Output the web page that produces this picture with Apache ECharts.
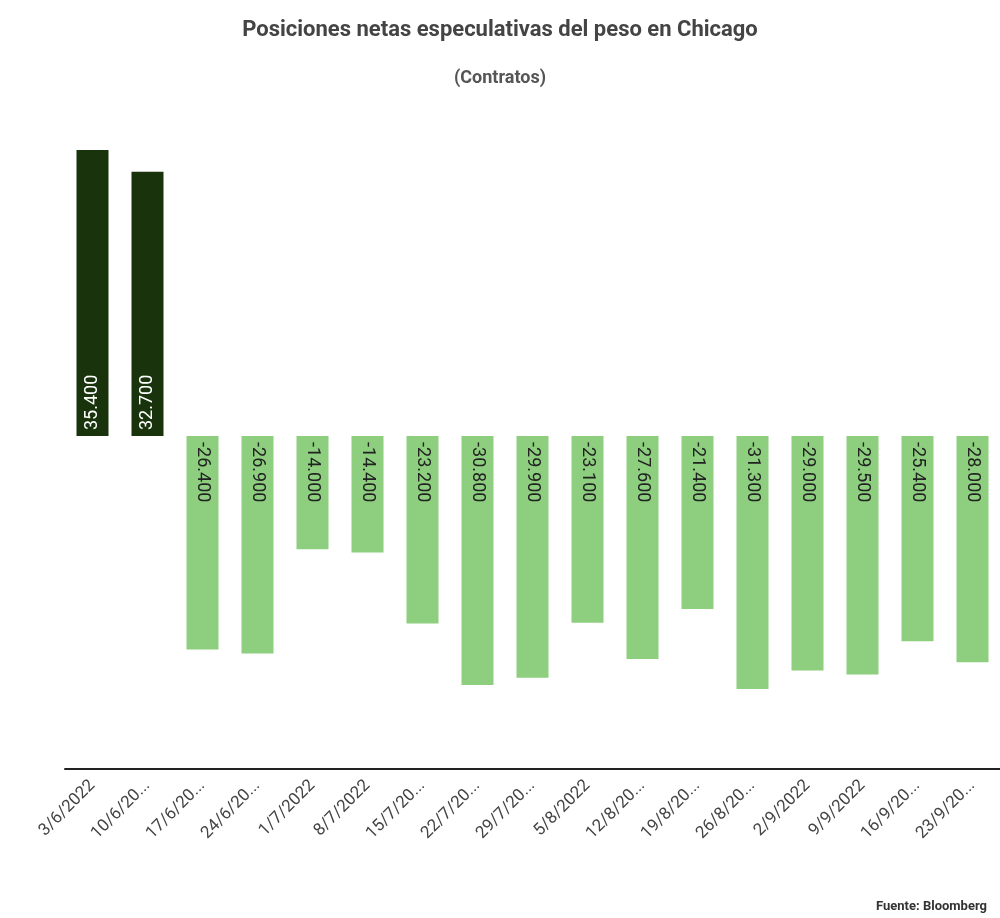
<!DOCTYPE html>
<html>
<head>
<meta charset="utf-8">
<script src="https://cdn.jsdelivr.net/npm/echarts@6/dist/echarts.min.js"></script>
<style>html,body{margin:0;padding:0;background:#fff}</style>
</head>
<body>
<div id="chart" style="width:1000px;height:918px"></div>
<script>
var fechas = ["3/6/2022","10/6/2022","17/6/2022","24/6/2022","1/7/2022","8/7/2022","15/7/2022","22/7/2022","29/7/2022","5/8/2022","12/8/2022","19/8/2022","26/8/2022","2/9/2022","9/9/2022","16/9/2022","23/9/2022"];
var posiciones = [35400,32700,-26400,-26900,-14000,-14400,-23200,-30800,-29900,-23100,-27600,-21400,-31300,-29000,-29500,-25400,-28000];

function fmt(v) {
    var s = Math.abs(v).toString().replace(/\B(?=(\d{3})+(?!\d))/g, ".");
    return (v < 0 ? "-" : "") + s;
}

var data = posiciones.map(function(v) {
    var pos = v >= 0;
    return {
        value: v,
        itemStyle: { color: pos ? "#19340d" : "#8dcf7f" },
        label: pos ? { position: "insideBottom", rotate: 90, align: "left", verticalAlign: "middle", distance: 6, color: "#fff" }
                   : { position: "insideTop", rotate: -90, align: "left", verticalAlign: "middle", distance: 6, color: "#222" }
    };
});

var chart = echarts.init(document.getElementById("chart"));
chart.setOption({
    title: [
        { text: "Posiciones netas especulativas del peso en Chicago", left: "center", top: 14, textStyle: { fontFamily: "Roboto", fontSize: 22, fontWeight: "bold", color: "#444" } },
        { text: "(Contratos)", left: "center", top: 64, textStyle: { fontFamily: "Roboto", fontSize: 18, fontWeight: "bold", color: "#555" } },
        { text: "Fuente: Bloomberg", right: 8, top: 895, textStyle: { fontFamily: "Roboto", fontSize: 13, fontWeight: "bold", color: "#333" } }
    ],
    grid: { left: 65, right: 0, top: 150, bottom: 149 },
    xAxis: {
        type: "category", data: fechas,
        axisLine: { onZero: false, lineStyle: { color: "#222", width: 2 } },
        axisTick: { show: false },
        axisLabel: {
            rotate: 45, interval: 0, fontFamily: "Roboto", fontSize: 17, color: "#444", margin: 14,
            formatter: function(s) { return s.length > 8 ? s.slice(0, 7) + "..." : s; }
        }
    },
    yAxis: { type: "value", min: -41200, max: 35400, show: false, splitLine: { show: false } },
    series: [{
        type: "bar", data: data, barWidth: 32,
        label: { show: true, fontFamily: "Roboto", fontSize: 18, formatter: function(p) { return fmt(p.value); } }
    }]
});
</script>
</body>
</html>
